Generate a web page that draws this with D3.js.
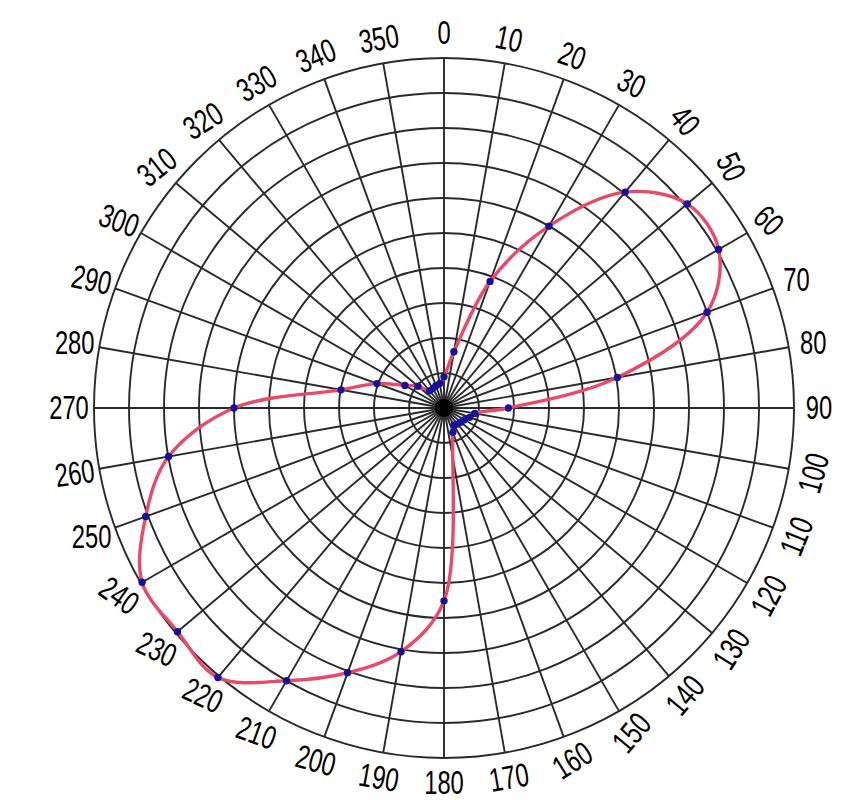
<!DOCTYPE html>
<html>
<head>
<meta charset="utf-8">
<script src="https://cdn.jsdelivr.net/npm/d3@7"></script>
<style>
  html, body { margin: 0; padding: 0; background: #ffffff; }
  svg { display: block; }
</style>
</head>
<body>
<svg id="chart" width="845" height="800"></svg>
<script>
// ---- data ----
const angles = [0, 10, 20, 30, 40, 50, 60, 70, 80, 90, 100, 110, 120, 130, 140, 150, 160,
                180, 190, 200, 210, 220, 230, 240, 250, 260, 270, 280, 290, 300, 310, 320, 330, 340, 350];
const values = [0.89, 1.63, 3.85, 6.0, 8.05, 9.07, 9.06, 8.0, 5.03, 1.84, 0.89, 0.78, 0.67, 0.63, 0.6, 0.57, 0.74,
                5.51, 7.07, 8.05, 9.0, 10.05, 9.94, 9.96, 9.07, 7.99, 6.0, 2.99, 2.04, 1.29, 0.97, 0.64, 0.64, 0.68, 0.71];
const tickAngles = d3.range(0, 360, 10);
const tickLabels = tickAngles.map(String);
const ringValues = d3.range(1, 11);
// hand-written label tilt (degrees), one per tick label
const labelTilt = [0, 12, 20, 25, 50, 65, 45, 0, 0, 0,
                   -75, -68, -62, -58, -50, -50, -32, -10, 0, 10,
                   15, 20, 25, 25, 35, 0, -8, 0, 0, 12,
                   20, -38, -32, -30, -22, -10];

// ---- layout ----
const cx = 444, cy = 408, R = 350, labelR = 375;
const svg = d3.select("#chart");
const g = svg.append("g").attr("transform", `translate(${cx},${cy})`);

const r = d3.scaleLinear().domain([0, 10]).range([0, R]);
const a = d3.scaleLinear().domain([0, 360]).range([0, 2 * Math.PI]);

const gridColor = "#2a2a2a";

// rings
g.append("g").selectAll("circle").data(ringValues).join("circle")
  .attr("r", d => r(d))
  .attr("fill", "none")
  .attr("stroke", gridColor)
  .attr("stroke-width", 1.9);

// spokes
g.append("g").selectAll("line").data(tickAngles).join("line")
  .attr("x1", 0).attr("y1", 0)
  .attr("x2", d => r(10) * Math.sin(a(d)))
  .attr("y2", d => -r(10) * Math.cos(a(d)))
  .attr("stroke", gridColor)
  .attr("stroke-width", 1.9);

// center blob
g.append("circle").attr("r", 9).attr("fill", "#000");

// labels
g.append("g").selectAll("text").data(tickAngles).join("text")
  .attr("transform", (d, i) => {
    const x = labelR * Math.sin(a(d));
    const y = -labelR * Math.cos(a(d));
    return `translate(${x},${y}) rotate(${labelTilt[i]}) scale(0.72,1)`;
  })
  .attr("text-anchor", "middle")
  .attr("dominant-baseline", "central")
  .attr("font-family", "'Liberation Sans', Arial, sans-serif")
  .attr("font-size", 33)
  .attr("fill", "#000")
  .text((d, i) => tickLabels[i]);

// curve
const pts = angles.map((d, i) => [a(d), r(values[i])]);
const line = d3.lineRadial()
  .angle(d => d[0])
  .radius(d => d[1])
  .curve(d3.curveCatmullRomClosed.alpha(0.5));

g.append("path")
  .attr("d", line(pts))
  .attr("fill", "none")
  .attr("stroke", "#e94a68")
  .attr("stroke-width", 3.4)
  .attr("stroke-linejoin", "round");

// points
g.append("g").selectAll("circle").data(pts).join("circle")
  .attr("cx", d => d[1] * Math.sin(d[0]))
  .attr("cy", d => -d[1] * Math.cos(d[0]))
  .attr("r", 3.7)
  .attr("fill", "#16109c");
</script>
</body>
</html>
